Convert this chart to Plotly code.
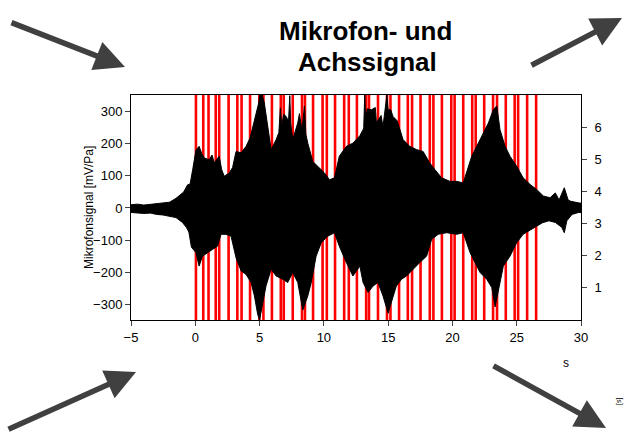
import plotly.graph_objects as go

# ---------------- data ----------------
# Microphone signal envelope, upper edge: (time s, mV/Pa)
mic_upper_pts = [
    (-5.0, 10), (-4.5, 12), (-4.0, 9), (-3.5, 11), (-3.0, 12), (-2.5, 14), (-2.0, 18),
    (-1.5, 30), (-1.2, 40), (-0.9, 50), (-0.6, 72), (-0.4, 75), (-0.2, 120),
    (0.05, 180), (0.3, 192), (0.5, 170), (0.7, 156), (1.08, 150), (1.3, 165), (1.47, 141),
    (1.86, 161), (2.05, 120), (2.25, 99), (2.64, 109), (2.9, 126), (3.17, 176), (3.56, 172),
    (3.95, 192), (4.26, 218), (4.6, 277), (4.85, 316), (4.95, 330), (5.0, 352), (5.2, 352),
    (5.37, 327), (5.63, 254), (5.9, 182), (6.29, 213), (6.5, 235), (6.62, 312), (6.72, 255),
    (6.88, 292), (7.07, 285), (7.25, 270), (7.35, 350), (7.42, 265), (7.58, 213),
    (7.97, 265), (8.1, 294), (8.3, 240), (8.49, 318), (8.6, 230), (8.75, 202), (9.14, 145),
    (9.66, 125), (10.05, 109), (10.44, 88), (10.83, 94), (11.2, 161), (11.75, 192),
    (12.26, 202), (12.8, 225), (13.05, 244), (13.1, 250), (13.18, 352), (13.25, 280),
    (13.38, 309), (13.7, 306), (14.0, 313), (14.09, 265), (14.45, 288), (14.6, 254),
    (14.9, 352), (15.0, 306), (15.2, 306), (15.38, 285), (15.7, 272), (16.16, 213),
    (16.68, 192), (17.2, 182), (17.72, 176), (18.24, 140), (18.63, 120), (19.16, 94),
    (19.8, 83), (20.33, 83), (20.84, 78), (21.1, 109), (21.5, 161), (21.89, 192),
    (22.4, 233), (22.8, 265), (23.18, 306), (23.45, 318), (23.7, 244), (24.1, 192),
    (24.48, 161), (25.0, 130), (25.5, 94), (26.05, 73), (26.57, 57), (27.08, 37),
    (27.6, 32), (28.0, 47), (28.3, 25), (28.7, 63), (29.0, 25), (29.2, 21), (29.8, 16),
    (30.0, 15),
]

# Microphone signal envelope, lower edge: (time s, mV/Pa)
mic_lower_pts = [
    (-5.0, -14), (-4.5, -15), (-4.0, -17), (-3.5, -16), (-3.0, -20), (-2.5, -22),
    (-2.0, -25), (-1.5, -30), (-1.0, -45), (-0.7, -60), (-0.5, -75), (-0.3, -122),
    (0.05, -139), (0.3, -181), (0.56, -150), (0.95, -139), (1.34, -129), (1.73, -119),
    (2.0, -82), (2.39, -82), (2.78, -88), (3.17, -155), (3.56, -196), (3.95, -207),
    (4.34, -232), (4.6, -274), (4.85, -331), (5.0, -349), (5.24, -305), (5.5, -243),
    (5.9, -191), (6.29, -212), (6.8, -222), (7.19, -232), (7.58, -201), (7.97, -232),
    (8.36, -318), (8.75, -274), (9.02, -232), (9.4, -150), (9.8, -108), (10.3, -88),
    (10.83, -77), (11.2, -119), (11.75, -170), (12.26, -212), (12.8, -181), (13.05, -232),
    (13.44, -263), (13.83, -243), (14.21, -232), (14.6, -274), (15.0, -328), (15.25, -294),
    (15.64, -243), (16.04, -222), (16.43, -212), (16.94, -191), (17.46, -170),
    (17.99, -150), (18.38, -98), (18.89, -82), (19.55, -77), (20.33, -82), (20.84, -77),
    (21.37, -139), (21.76, -170), (22.15, -201), (22.67, -222), (23.06, -248),
    (23.32, -308), (23.57, -253), (23.96, -181), (24.48, -150), (25.0, -108), (25.5, -82),
    (26.05, -67), (26.6, -55), (27.0, -46), (27.5, -40), (28.0, -45), (28.5, -60),
    (28.7, -77), (28.9, -40), (29.3, -20), (29.8, -14), (30.0, -14),
]

# Axis signal pulses: times (s) and pulse height (right axis)
pulse_times = [0.05, 0.62, 1.03, 1.59, 1.86, 2.59, 3.27, 3.60, 4.26, 4.98, 5.30, 5.96,
               6.65, 6.88, 7.58, 8.30, 8.53, 9.16, 9.90, 10.23, 10.87, 11.58, 11.94, 12.57,
               13.29, 13.51, 14.21, 14.91, 15.18, 15.85, 16.53, 16.86, 17.52, 18.24, 18.52,
               19.18, 19.91, 20.17, 20.84, 21.54, 21.81, 22.47, 23.16, 23.47, 24.15, 24.84,
               25.11, 25.81, 26.51]
pulse_low = 0
pulse_high = 7.2

x_ticks = [-5, 0, 5, 10, 15, 20, 25, 30]
left_ticks = [-300, -200, -100, 0, 100, 200, 300]
right_ticks = [1, 2, 3, 4, 5, 6]

t_upper = [p[0] for p in mic_upper_pts]
mic_upper = [p[1] for p in mic_upper_pts]
t_lower = [p[0] for p in mic_lower_pts]
mic_lower = [p[1] for p in mic_lower_pts]

# ---------------- figure ----------------
FONT = "Liberation Sans, Arial, sans-serif"
fig = go.Figure()

# red pulses (base subplot -> drawn underneath)
px, py = [], []
for t in pulse_times:
    px += [t, t, None]
    py += [pulse_low, pulse_high, None]
fig.add_trace(go.Scatter(x=px, y=py, mode="lines", yaxis="y",
                         line=dict(color="#ff0000", width=2.6),
                         hoverinfo="skip", showlegend=False))

# black microphone signal (overlay subplot -> drawn on top)
poly_x = t_upper + t_lower[::-1]
poly_y = mic_upper + mic_lower[::-1]
fig.add_trace(go.Scatter(x=poly_x, y=poly_y, mode="lines", yaxis="y2",
                         fill="toself", fillcolor="#000000",
                         line=dict(color="#000000", width=1),
                         hoverinfo="skip", showlegend=False))

axis_common = dict(showgrid=False, zeroline=False, showline=True, linecolor="#000000",
                   linewidth=1, ticks="outside", ticklen=5, tickcolor="#444444",
                   tickfont=dict(family=FONT, size=13, color="#000000"))

fig.update_layout(
    width=626, height=432,
    margin=dict(l=131, r=45, t=95, b=112),
    paper_bgcolor="white", plot_bgcolor="white",
    showlegend=False,
    xaxis=dict(range=[-5, 30], tickvals=x_ticks, mirror=True, **axis_common),
    yaxis=dict(range=[0, 7.0], side="right", tickvals=right_ticks, ticklabelstandoff=5,
               **axis_common),
    yaxis2=dict(range=[-349, 352], side="left", overlaying="y", tickvals=left_ticks,
                **axis_common),
)

def px2paper(xp, yp):
    return (xp - 131) / 450.0, (320 - yp) / 225.0

def text_ann(text, xp, yp, size, angle=0, bold=False):
    x, y = px2paper(xp, yp)
    return dict(text=("<b>%s</b>" % text) if bold else text, x=x, y=y,
                xref="paper", yref="paper", xanchor="center", yanchor="middle",
                textangle=angle, showarrow=False,
                font=dict(family=FONT, size=size, color="#000000"))

annotations = [
    text_ann("Mikrofon- und", 365, 31, 26, bold=True),
    text_ann("Achssignal", 367, 61.5, 26, bold=True),
    text_ann("Mikrofonsignal [mV/Pa]", 89, 208, 12, angle=-90),
    text_ann("s", 566, 363, 12),
    text_ann("[s]", 619, 402, 7, angle=-90),
]

# decorative arrows: (head x, head y, tail x, tail y) in pixels
arrows = [(125, 67, 10, 22), (622, 18, 530, 66), (136, 372, 7, 430), (606, 428, 492, 365)]
for hx, hy, tx_, ty_ in arrows:
    ax_, ay_ = px2paper(hx, hy)
    annotations.append(dict(text="", x=ax_, y=ay_, xref="paper", yref="paper",
                            ax=tx_ - hx, ay=ty_ - hy, showarrow=True,
                            arrowhead=2, arrowsize=1.1, arrowwidth=5.5,
                            arrowcolor="#404040"))
fig.update_layout(annotations=annotations)

fig.write_html("out.html", config={"displayModeBar": False},
               post_script="document.body.style.margin='0';")
